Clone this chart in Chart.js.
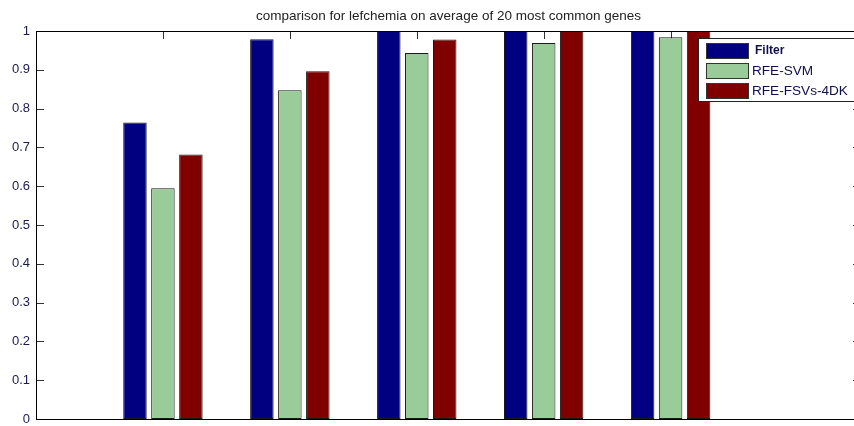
<!DOCTYPE html>
<html>
<head>
<meta charset="utf-8">
<script src="https://cdn.jsdelivr.net/npm/chart.js@4"></script>
<style>
  html, body { margin: 0; padding: 0; background: #fff; overflow: hidden; }
  canvas { display: block; }
</style>
</head>
<body>
<canvas id="chart1" width="880" height="426"></canvas>
<script>
// data
var groupX = [1, 2, 3, 4, 5];
var seriesNames = ["Filter", "RFE-SVM", "RFE-FSVs-4DK"];
var filterVals = [0.764, 0.979, 1.0, 1.0, 1.0];
var svmVals = [0.595, 0.847, 0.943, 0.969, 0.984];
var fsvVals = [0.682, 0.896, 0.978, 1.0, 1.0];
var yTicks = [0, 0.1, 0.2, 0.3, 0.4, 0.5, 0.6, 0.7, 0.8, 0.9, 1];
var yTickLabels = ["0", "0.1", "0.2", "0.3", "0.4", "0.5", "0.6", "0.7", "0.8", "0.9", "1"];
var titleText = "comparison for lefchemia on average of 20 most common genes";

var colors = ["#000080", "#99cc99", "#800000"];

function pts(vals) {
	return groupX.map(function (x, i) { return { x: x, y: vals[i] }; });
}

var allVals = [filterVals, svmVals, fsvVals];
var datasets = allVals.map(function (vals, k) {
	return {
		label: seriesNames[k],
		data: pts(vals),
		backgroundColor: colors[k],
		borderColor: "#1a1a1a",
		borderWidth: 1,
		borderSkipped: false,
		categoryPercentage: 0.661,
		barPercentage: 0.84
	};
});

// matlab style box, inward ticks, title and legend
var matlabAxes = {
	id: "matlabAxes",
	beforeDatasetsDraw: function (chart) {
		var ctx = chart.ctx, a = chart.chartArea;
		var xs = chart.scales.x, ys = chart.scales.y;
		ctx.save();
		ctx.strokeStyle = "#333";
		ctx.lineWidth = 1;
		ctx.beginPath();
		yTicks.forEach(function (v) {
			var y = Math.round(ys.getPixelForValue(v)) + 0.5;
			ctx.moveTo(a.left, y); ctx.lineTo(a.left + 8, y);
			ctx.moveTo(a.right, y); ctx.lineTo(a.right - 8, y);
		});
		groupX.forEach(function (v) {
			var x = Math.round(xs.getPixelForValue(v)) + 0.5;
			ctx.moveTo(x, a.top); ctx.lineTo(x, a.top + 8);
			ctx.moveTo(x, a.bottom); ctx.lineTo(x, a.bottom - 8);
		});
		ctx.stroke();
		ctx.restore();
	},
	afterDatasetsDraw: function (chart) {
		var ctx = chart.ctx, a = chart.chartArea;
		ctx.save();
		ctx.strokeStyle = "#000";
		ctx.lineWidth = 1;
		ctx.strokeRect(Math.round(a.left) + 0.5, Math.round(a.top) + 0.5,
			Math.round(a.right - a.left), Math.round(a.bottom - a.top));
		ctx.restore();
	},
	afterDraw: function (chart) {
		var ctx = chart.ctx, a = chart.chartArea;
		ctx.save();
		// title centred over the axes box
		ctx.fillStyle = "#222";
		ctx.font = "13.5px Arial, 'Liberation Sans'";
		ctx.textAlign = "center";
		ctx.textBaseline = "middle";
		ctx.fillText(titleText, (a.left + a.right) / 2, 16);
		ctx.textAlign = "left";

		ctx.fillStyle = "#fff";
		ctx.fillRect(698, 38, 180, 63);
		ctx.strokeStyle = "#222";
		ctx.lineWidth = 1;
		ctx.strokeRect(698.5, 38.5, 180, 63);
		var rowY = [43, 63, 83];
		chart.data.datasets.forEach(function (ds, i) {
			ctx.fillStyle = ds.backgroundColor;
			ctx.fillRect(706, rowY[i], 42, 15);
			ctx.strokeStyle = "#333";
			ctx.strokeRect(706.5, rowY[i] + 0.5, 42, 15);
			ctx.fillStyle = "#10104a";
			if (i == 0) {
				ctx.font = "bold 12px Arial, 'Liberation Sans'";
				ctx.fillText(ds.label, 755, rowY[i] + 7.5);
			} else {
				ctx.font = "13.6px Arial, 'Liberation Sans'";
				ctx.fillText(ds.label, 752, rowY[i] + 8);
			}
		});
		ctx.restore();
	}
};

var options = {
	responsive: false,
	animation: false,
	devicePixelRatio: 1,
	layout: { padding: { left: 0, right: 19, top: 31, bottom: 7 } },
	plugins: {
		legend: { display: false },
		tooltip: { enabled: false },
		title: { display: false }
	},
	scales: {
		x: {
			type: "linear",
			min: 0,
			max: 6.5,
			offset: false,
			grid: { display: false, drawTicks: false },
			border: { display: false },
			ticks: { display: false, stepSize: 1, includeBounds: false },
			afterFit: function (s) { s.height = 0; }
		},
		y: {
			min: 0,
			max: 1,
			grid: { display: false, drawTicks: false },
			border: { display: false },
			afterBuildTicks: function (s) {
				s.ticks = yTicks.map(function (v) { return { value: v }; });
			},
			ticks: {
				padding: 6,
				color: "#1a1a50",
				font: { family: "Arial, 'Liberation Sans'", size: 13 },
				callback: function (v, i) { return yTickLabels[i]; }
			},
			afterFit: function (s) {
				s.width = 36;
				s.paddingTop = 0;
				s.paddingBottom = 0;
			}
		}
	}
};

var chart1 = new Chart(document.getElementById("chart1").getContext("2d"), {
	type: "bar",
	data: { datasets: datasets },
	options: options,
	plugins: [matlabAxes]
});
</script>
</body>
</html>
